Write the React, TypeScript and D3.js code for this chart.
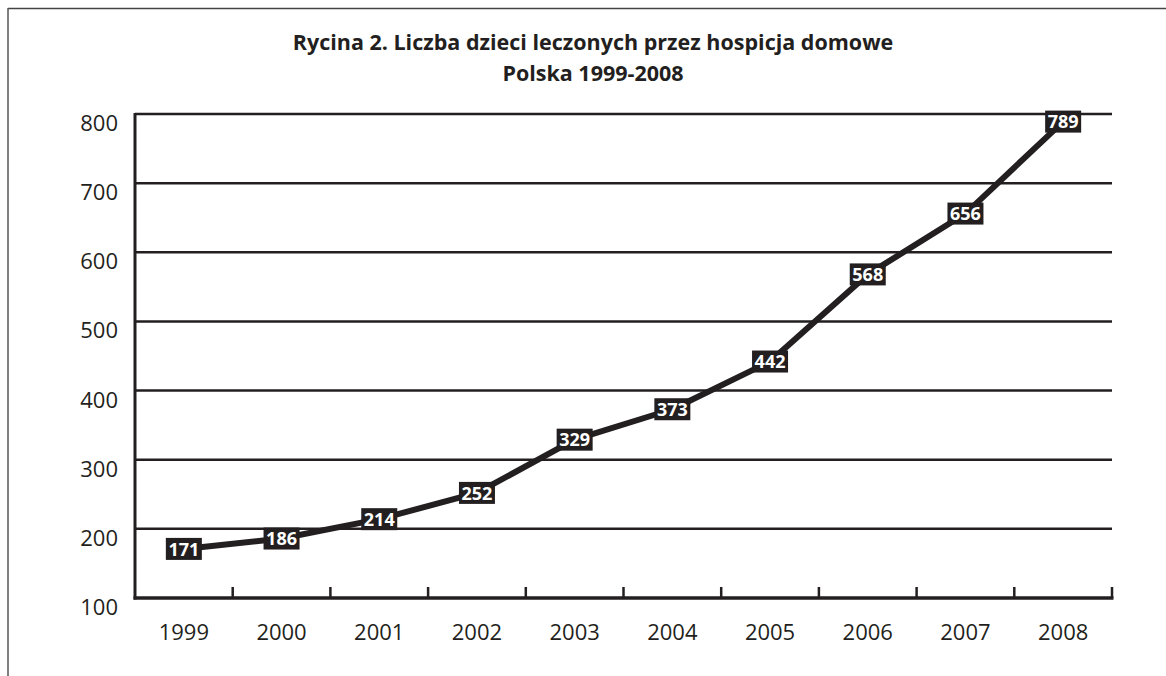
import React from "react";
import * as d3 from "d3";

const years = ["1999","2000","2001","2002","2003","2004","2005","2006","2007","2008"];
const values = [171,186,214,252,329,373,442,568,656,789];
const yTicks = [100,200,300,400,500,600,700,800];
const titleLines = ["Rycina 2. Liczba dzieci leczonych przez hospicja domowe", "Polska 1999-2008"];

const W = 1166, H = 676;
const INK = "#231f20";
const FONT = "'Open Sans', 'Noto Sans', sans-serif";

export default function App() {
  const x = d3.scaleBand<string>().domain(years).range([135, 1112]).paddingInner(0).paddingOuter(0);
  const y = d3.scaleLinear().domain([100, 800]).range([598, 114]);
  const cx = (d: string) => (x(d) as number) + x.bandwidth() / 2;
  const line = d3.line<number>().x((_, i) => cx(years[i])).y(v => y(v));
  const boundaries = years.map(d => (x(d) as number) + x.bandwidth());

  return (
    <svg width={W} height={H} style={{ position: "absolute", left: 0, top: 0, background: "#fff" }} fontFamily={FONT}>
      <rect x={0} y={0} width={W} height={H} fill="#fff" />
      {/* frame */}
      <line x1={8} y1={8.5} x2={W} y2={8.5} stroke="#444" strokeWidth={1.5} />
      <line x1={8} y1={8} x2={8} y2={H} stroke="#555" strokeWidth={1.5} />
      {/* title */}
      {titleLines.map((t, i) => (
        <text key={i} x={593} y={50 + i * 31} textAnchor="middle" fontWeight={700} fontSize={21.5} fill={INK}>{t}</text>
      ))}
      {/* gridlines */}
      {yTicks.filter(v => v > 100).map(v => (
        <line key={v} x1={135} x2={1112} y1={y(v)} y2={y(v)} stroke={INK} strokeWidth={2.5} />
      ))}
      {/* y labels */}
      {yTicks.map(v => (
        <text key={v} x={118} y={y(v) + 17} textAnchor="end" fontSize={22} fill={INK}>{v}</text>
      ))}
      {/* axes */}
      <line x1={135} x2={135} y1={113} y2={599.5} stroke={INK} strokeWidth={3} />
      <line x1={133.5} x2={1113.5} y1={598} y2={598} stroke={INK} strokeWidth={3.5} />
      {boundaries.map((bx, i) => (
        <line key={i} x1={bx} x2={bx} y1={598} y2={587} stroke={INK} strokeWidth={2.5} />
      ))}
      {/* x labels */}
      {years.map(d => (
        <text key={d} x={cx(d)} y={640} textAnchor="middle" fontSize={22} fill={INK}>{d}</text>
      ))}
      {/* data line */}
      <path d={line(values) || ""} fill="none" stroke={INK} strokeWidth={6} strokeLinejoin="round" />
      {/* value labels */}
      {values.map((v, i) => (
        <g key={i} transform={`translate(${cx(years[i])},${y(v)})`}>
          <rect x={-18} y={-11} width={36} height={22} fill={INK} />
          <text x={0} y={6.7} textAnchor="middle" fontSize={18} fontWeight={700} fill="#fff">{v}</text>
        </g>
      ))}
    </svg>
  );
}
